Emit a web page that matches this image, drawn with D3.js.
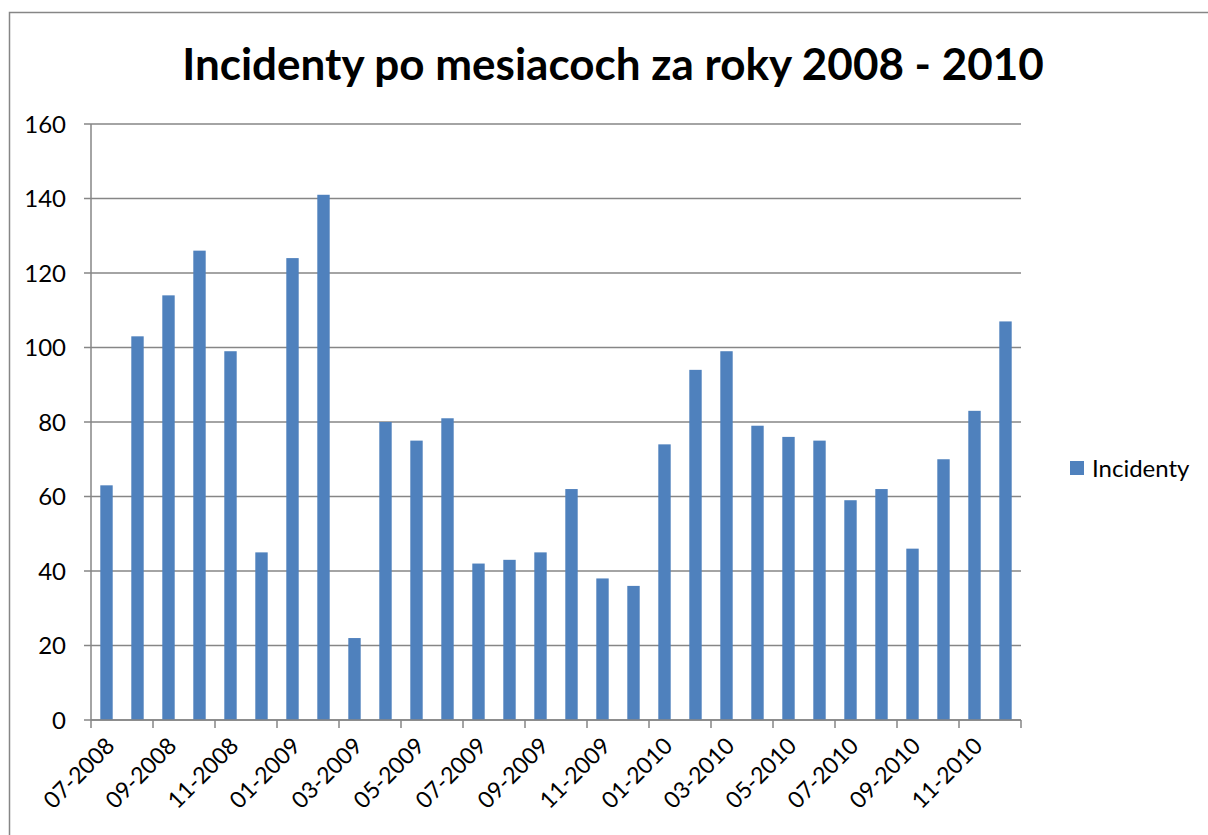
<!DOCTYPE html>
<html><head><meta charset="utf-8">
<script src="https://cdn.jsdelivr.net/npm/d3@7"></script>
<style>body{margin:0;background:#fff;}svg{display:block;font-family:Lato,"Open Sans",sans-serif;}</style>
</head><body>
<script>
const months = ["07-2008","08-2008","09-2008","10-2008","11-2008","12-2008","01-2009","02-2009","03-2009","04-2009","05-2009","06-2009","07-2009","08-2009","09-2009","10-2009","11-2009","12-2009","01-2010","02-2010","03-2010","04-2010","05-2010","06-2010","07-2010","08-2010","09-2010","10-2010","11-2010","12-2010"];
const incidenty = [63,103,114,126,99,45,124,141,22,80,75,81,42,43,45,62,38,36,74,94,99,79,76,75,59,62,46,70,83,107];
const yTicks = [0,20,40,60,80,100,120,140,160];
const seriesName = "Incidenty";
const title = "Incidenty po mesiacoch za roky 2008 - 2010";

const W=1208,H=835;
const svg=d3.select("body").append("svg").attr("width",W).attr("height",H);
svg.append("rect").attr("x",9.5).attr("y",12.5).attr("width",W).attr("height",H).attr("fill","#fff").attr("stroke","#868686").attr("stroke-width",1.5);

const L=91,R=1021,T=124,B=720;
const x=d3.scaleBand().domain(months).range([L,R]).paddingInner(0.6).paddingOuter(0.3);
const xb=d3.scaleBand().domain(months).range([L,R]);
const y=d3.scaleLinear().domain([0,160]).range([B,T]);
const grid="#868686";

svg.append("g").selectAll("line").data(yTicks).join("line")
 .attr("x1",L-7).attr("x2",R).attr("y1",d=>y(d)).attr("y2",d=>y(d)).attr("stroke",grid).attr("stroke-width",1.5);
svg.append("g").selectAll("text").data(yTicks).join("text")
 .attr("x",66).attr("y",d=>y(d)).attr("dy","0.36em").attr("text-anchor","end").attr("font-size",24).text(d=>d);

svg.append("g").selectAll("rect").data(incidenty).join("rect")
 .attr("x",(d,i)=>x(months[i])).attr("width",x.bandwidth()).attr("y",d=>y(d)).attr("height",d=>B-y(d)).attr("fill","#4F81BD");

svg.append("line").attr("x1",L).attr("x2",L).attr("y1",T).attr("y2",B).attr("stroke",grid).attr("stroke-width",1.5);
svg.append("line").attr("x1",L).attr("x2",R).attr("y1",B).attr("y2",B).attr("stroke",grid).attr("stroke-width",1.5);
const tickIdx=d3.range(0,months.length+1,2);
svg.append("g").selectAll("line").data(tickIdx).join("line")
 .attr("x1",i=>L+i*xb.step()).attr("x2",i=>L+i*xb.step()).attr("y1",B).attr("y2",B+8).attr("stroke",grid).attr("stroke-width",1.5);
svg.append("g").selectAll("text").data(months.filter((m,i)=>i%2===0)).join("text")
 .attr("transform",m=>`translate(${xb(m)+xb.bandwidth()/2-2},${B+16}) rotate(-45)`)
 .attr("text-anchor","end").attr("dy","0.7em").attr("font-size",23).text(m=>m);

svg.append("text").attr("x",613).attr("y",80).attr("text-anchor","middle").attr("font-size",44).attr("font-weight","bold").text(title);

svg.append("rect").attr("x",1070).attr("y",461).attr("width",14).attr("height",14).attr("fill","#4F81BD");
svg.append("text").attr("x",1092).attr("y",468).attr("dy","0.36em").attr("font-size",24).text(seriesName);
</script>
</body></html>
